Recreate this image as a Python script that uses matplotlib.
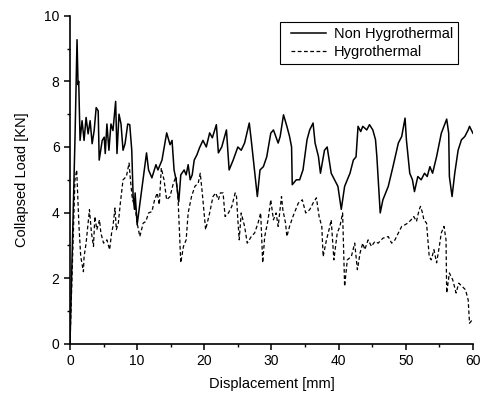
import numpy as np
import matplotlib
matplotlib.use("Agg")
import matplotlib.pyplot as plt
from matplotlib.ticker import MultipleLocator
from matplotlib.lines import Line2D
from matplotlib.legend_handler import HandlerLine2D

plt.rcParams['font.family'] = ['Liberation Sans', 'DejaVu Sans']

# Non Hygrothermal curve
disp_non = [0, 0.75, 1.05, 1.2, 1.3, 1.5, 1.8, 2.1, 2.4, 2.7, 3.0, 3.3, 3.6, 3.9, 4.2,
            4.35, 4.8, 5.1, 5.25, 5.5, 5.8, 6.1, 6.4, 6.8, 7.0, 7.3, 7.6, 7.9, 8.2, 8.6,
            8.9, 9.2, 9.4, 9.6, 9.7, 10.0, 11.4, 11.7, 12.2, 12.8, 13.1, 13.7, 14.4, 14.9,
            15.2, 15.5, 15.8, 16.2, 16.5, 17.0, 17.3, 17.6, 17.9, 18.2, 18.5, 18.9, 19.3,
            19.8, 20.3, 20.8, 21.2, 21.8, 22.1, 22.6, 23.3, 23.7, 24.3, 25.0, 25.5, 26.0,
            26.7, 27.0, 27.9, 28.3, 28.8, 29.3, 29.9, 30.3, 31.0, 31.3, 31.8, 32.3, 32.7,
            33.0, 33.1, 33.7, 34.2, 34.7, 35.3, 35.7, 36.2, 36.5, 37.0, 37.3, 37.9, 38.3,
            38.9, 39.4, 39.9, 40.4, 40.9, 41.7, 42.2, 42.6, 42.9, 43.3, 43.6, 44.2, 44.6,
            45.1, 45.5, 45.7, 46.2, 46.6, 47.4, 48.1, 48.9, 49.4, 49.9, 50.1, 50.6, 51.0,
            51.3, 51.8, 52.3, 52.8, 53.2, 53.6, 54.0, 54.6, 55.3, 56.1, 56.4, 56.5, 56.9,
            57.3, 57.8, 58.3, 58.8, 59.3, 59.5, 60.0]
load_non = [0, 6.3, 9.27, 7.9, 8.0, 6.2, 6.8, 6.2, 6.9, 6.4, 6.8, 6.1, 6.5, 7.2, 7.1,
            5.6, 6.2, 6.3, 5.8, 6.7, 5.9, 6.7, 6.5, 7.39, 5.8, 7.0, 6.7, 5.9, 6.1, 6.7,
            6.68, 5.9, 4.5, 4.1, 4.6, 3.63, 5.82, 5.3, 5.06, 5.46, 5.3, 5.6, 6.43, 6.07,
            6.2, 5.3, 5.0, 4.33, 5.15, 5.3, 5.15, 5.46, 5.0, 5.15, 5.6, 5.76, 5.98,
            6.2, 6.0, 6.43, 6.28, 6.68, 5.82, 6.0, 6.52, 5.3, 5.6, 6.0, 5.9, 6.12,
            6.73, 6.2, 4.49, 5.3, 5.4, 5.7, 6.42, 6.52, 6.12, 6.32, 6.98, 6.63, 6.32,
            6.0, 4.85, 5.0, 5.0, 5.3, 6.22, 6.52, 6.73, 6.12, 5.71, 5.2, 5.9, 6.0,
            5.2, 5.0, 4.8, 4.1, 4.8, 5.2, 5.6, 5.7, 6.63, 6.47, 6.63, 6.52, 6.68,
            6.52, 6.22, 5.71, 3.99, 4.39, 4.8, 5.4, 6.12, 6.32, 6.88, 6.22, 5.2, 5.0,
            4.64, 5.1, 5.0, 5.2, 5.1, 5.4, 5.2, 5.71, 6.42, 6.85, 6.42, 5.1, 4.49,
            5.2, 5.9, 6.22, 6.32, 6.52, 6.63, 6.42]

# Hygrothermal curve
disp_hyg = [0, 0.74, 1.0, 1.1, 1.34, 1.6, 2.0, 2.1, 2.4, 2.9, 3.2, 3.5, 3.7, 4.0, 4.4,
            4.6, 5.0, 5.5, 5.9, 6.2, 6.4, 6.7, 6.9, 7.2, 7.5, 7.9, 8.4, 8.8, 9.0, 9.3,
            9.7, 10.0, 10.4, 10.9, 11.3, 11.7, 12.2, 12.6, 13.0, 13.3, 13.6, 14.0, 14.4,
            14.9, 15.4, 15.8, 16.1, 16.5, 16.9, 17.3, 17.6, 18.1, 18.6, 19.1, 19.4, 19.7,
            20.2, 20.8, 21.3, 21.7, 22.1, 22.4, 22.8, 23.1, 23.6, 24.1, 24.6, 24.8, 25.0,
            25.2, 25.5, 26.0, 26.4, 27.0, 27.5, 28.0, 28.4, 28.7, 29.0, 29.5, 29.9, 30.3,
            30.7, 31.0, 31.5, 31.7, 32.1, 32.3, 32.7, 33.2, 34.0, 34.6, 35.1, 35.7, 36.2,
            36.7, 37.1, 37.5, 37.7, 38.2, 38.7, 38.9, 39.3, 39.8, 40.2, 40.6, 40.9, 41.3,
            41.9, 42.4, 42.8, 43.2, 43.6, 43.9, 44.4, 44.9, 45.4, 45.9, 46.6, 47.4, 47.9,
            48.4, 48.9, 49.4, 49.9, 50.3, 50.8, 51.2, 51.6, 52.0, 52.2, 52.5, 52.7, 53.1,
            53.5, 53.8, 54.2, 54.6, 55.0, 55.3, 55.7, 56.0, 56.1, 56.5, 57.0, 57.5, 57.9,
            58.4, 58.9, 59.3, 59.5, 59.9]
load_hyg = [0, 5.0, 5.3, 4.8, 3.58, 2.66, 2.2, 2.66, 3.07, 4.09, 3.38, 2.97, 3.88, 3.48, 3.78,
            3.38, 3.07, 3.17, 2.87, 3.38, 3.58, 4.14, 3.48, 3.68, 4.29, 5.0, 5.1, 5.51, 5.0, 4.39,
            4.19, 3.68, 3.27, 3.68, 3.73, 3.99, 4.03, 4.39, 4.6, 4.24, 5.36, 5.0, 4.39,
            4.49, 4.9, 5.1, 4.39, 2.47, 2.97, 3.17, 3.99, 4.49, 4.8, 4.9, 5.2, 4.6,
            3.48, 3.99, 4.49, 4.6, 4.39, 4.6, 4.6, 3.88, 3.99, 4.19, 4.6, 4.49, 3.78,
            3.17, 3.99, 3.58, 3.07, 3.27, 3.38, 3.68, 3.99, 2.47, 3.27, 3.78, 4.39, 3.78,
            3.99, 3.58, 4.49, 4.09, 3.68, 3.27, 3.58, 3.88, 4.29, 4.39, 3.99, 4.09, 4.29,
            4.45, 3.88, 3.58, 2.66, 3.17, 3.58, 3.78, 2.56, 3.38, 3.58, 3.99, 1.75, 2.56,
            2.66, 3.07, 2.26, 2.77, 3.07, 2.87, 3.17, 2.97, 3.12, 3.07, 3.22, 3.27, 3.07,
            3.17, 3.38, 3.58, 3.63, 3.68, 3.78, 3.88, 3.73, 4.09, 4.19, 3.99, 3.78, 3.68,
            2.66, 2.56, 2.87, 2.47, 2.97, 3.38, 3.58, 3.17, 1.55, 2.16, 1.95, 1.55, 1.85,
            1.75, 1.65, 1.34, 0.63, 0.73]

fig = plt.figure(figsize=(4.86, 3.93), dpi=100)
ax = fig.add_axes([0.144, 0.125, 0.829, 0.835])

ax.plot(disp_non, load_non, color='black', linewidth=1.1, label='Non Hygrothermal')
ax.plot(disp_hyg, load_hyg, color='black', linewidth=0.9, dashes=(3, 2), label='Hygrothermal')

ax.set_xlim(0, 60)
ax.set_ylim(0, 10)
ax.xaxis.set_major_locator(MultipleLocator(10))
ax.xaxis.set_minor_locator(MultipleLocator(5))
ax.yaxis.set_major_locator(MultipleLocator(2))
ax.yaxis.set_minor_locator(MultipleLocator(1))

for side in ['top', 'right']:
    ax.spines[side].set_visible(False)
for side in ['left', 'bottom']:
    ax.spines[side].set_linewidth(1.2)

ax.tick_params(which='major', direction='out', length=4, width=1.1, labelsize=10)
ax.tick_params(which='minor', direction='out', length=2.5, width=1.0)

ax.set_xlabel('Displacement [mm]', fontsize=10.5, labelpad=6)
ax.set_ylabel('Collapsed Load [KN]', fontsize=10.5, labelpad=11)

# extra room left of the legend handles, like the original box
leg = ax.legend(loc='upper right', bbox_to_anchor=(0.963, 0.981), borderaxespad=0,
                fancybox=False, edgecolor='black', framealpha=1, fontsize=10.5,
                handlelength=2.85, borderpad=0.35, labelspacing=0.25, handletextpad=0.5,
                handler_map={Line2D: HandlerLine2D(xpad=0.45)})
leg.get_frame().set_linewidth(0.8)

fig.savefig('out.png', dpi=100)
